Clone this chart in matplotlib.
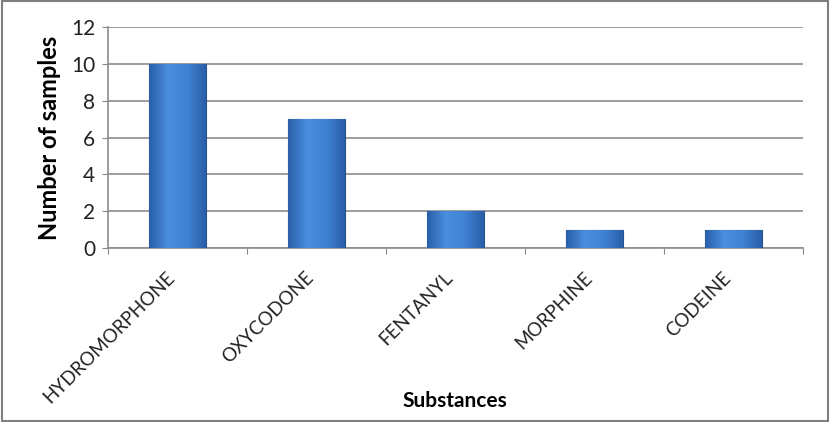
import numpy as np
import matplotlib.pyplot as plt
from matplotlib.colors import LinearSegmentedColormap

substances = ['HYDROMORPHONE', 'OXYCODONE', 'FENTANYL', 'MORPHINE', 'CODEINE']
samples = [10, 7, 2, 1, 1]
yticks = [0, 2, 4, 6, 8, 10, 12]

plt.rcParams['font.family'] = ['Lato', 'DejaVu Sans']

fig = plt.figure(figsize=(8.3, 4.22), dpi=100)
ax = fig.add_axes([0.130, 0.412, 0.837, 0.524])

x = np.arange(len(substances))
bars = ax.bar(x, samples, width=0.41, color='#3a78c8', edgecolor='#24548f',
              linewidth=0.8, zorder=3)

# horizontal shading inside each bar, like the excel bevel
cmap = LinearSegmentedColormap.from_list('bar', ['#2a5fa8', '#4a8ee0', '#3f82d4', '#2a5fa8'])
grad = np.linspace(0, 1, 64).reshape(1, -1)
for b in bars:
    im = ax.imshow(grad, cmap=cmap, aspect='auto', zorder=3,
                   extent=[b.get_x(), b.get_x() + b.get_width(), 0, b.get_height()])
    im.set_clip_path(b)

ax.set_xlim(-0.5, len(substances) - 0.5)
ax.set_ylim(0, 12)
ax.set_yticks(yticks)
ax.set_yticklabels([str(t) for t in yticks], fontsize=15, color='#222222')
ax.set_xticks(np.arange(len(substances) + 1) - 0.5)
ax.set_xticklabels([''] * (len(substances) + 1))
ax.tick_params(axis='x', length=4, color='#888888')
ax.tick_params(axis='y', length=4, color='#888888', pad=5)

# category labels, rotated, ending near the bar centre (excel style)
for xi, name in zip(x, substances):
    ax.annotate(name, xy=(xi, 0), xycoords=('data', 'axes fraction'),
                xytext=(-8, -15), textcoords='offset points',
                rotation=45, ha='right', va='top', rotation_mode='anchor',
                fontsize=13.5, color='#222222', annotation_clip=False)

ax.grid(axis='y', color='#8c8c8c', linewidth=1.2, zorder=0)
for side in ['top', 'right']:
    ax.spines[side].set_visible(False)
ax.spines['left'].set_color('#8c8c8c')
ax.spines['bottom'].set_color('#8c8c8c')
ax.spines['left'].set_linewidth(1.2)
ax.spines['bottom'].set_linewidth(1.2)

ax.set_ylabel('Number of samples', fontsize=17, fontweight='bold', labelpad=7)
fig.text(0.548, 0.035, 'Substances', fontsize=15, fontweight='bold', ha='center')

fig.patches.append(plt.Rectangle((0.002, 0.003), 0.996, 0.994, transform=fig.transFigure,
                                 fill=False, edgecolor='#7f7f7f', linewidth=1.5))

fig.savefig('out.png', dpi=100)
